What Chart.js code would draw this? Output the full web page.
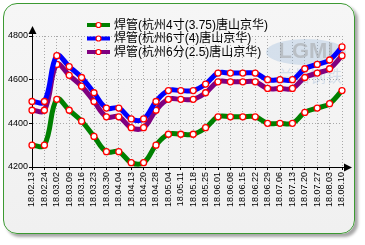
<!DOCTYPE html>
<html>
<head>
<meta charset="utf-8">
<script src="https://cdn.jsdelivr.net/npm/chart.js@4/dist/chart.umd.min.js"></script>
<style>
html,body{margin:0;padding:0;background:#fff;width:365px;height:245px;overflow:hidden;}
#panel{position:absolute;left:3px;top:3px;width:350px;height:229px;border:1.5px solid #3c9a32;border-radius:14px;
background:linear-gradient(#f6f6f6,#f0f0f0);box-shadow:3px 3px 3px rgba(0,0,0,0.35);}
#c{position:absolute;left:0;top:0;}
</style>
</head>
<body>
<div id="panel"></div>
<canvas id="c" width="365" height="245"></canvas>
<script>
const categories = ["18.02.13","18.02.24","18.03.02","18.03.09","18.03.16","18.03.23","18.03.30","18.04.04","18.04.13","18.04.20","18.04.28","18.05.04","18.05.11","18.05.18","18.05.25","18.06.01","18.06.08","18.06.15","18.06.22","18.06.29","18.07.06","18.07.13","18.07.20","18.07.27","18.08.03","18.08.10"];
const seriesNames = ["焊管(杭州4寸(3.75)唐山京华)","焊管(杭州6寸(4)唐山京华)","焊管(杭州6分(2.5)唐山京华)"];
const hz4 = [4300,4300,4510,4460,4410,4340,4270,4270,4220,4220,4300,4350,4350,4350,4380,4430,4430,4430,4430,4400,4400,4400,4450,4470,4490,4550];
const hz6 = [4500,4500,4710,4660,4610,4540,4470,4470,4420,4420,4500,4550,4550,4550,4580,4630,4630,4630,4630,4600,4600,4600,4650,4670,4690,4750];
const hz6f = [4460,4460,4670,4620,4570,4500,4430,4430,4380,4380,4460,4510,4510,4510,4540,4590,4590,4590,4590,4560,4560,4560,4610,4630,4650,4710];
const yTicks = [4200,4400,4600,4800];
const colors = ["#008000","#0000ff","#800080"];

const watermark = {
  id:'watermark',
  beforeDatasetsDraw(chart){
    const ctx = chart.ctx; ctx.save();
    ctx.fillStyle='rgba(140,175,215,0.3)';
    ctx.beginPath(); ctx.ellipse(306,52,40,13,0,0,Math.PI*2); ctx.fill();
    ctx.font='bold 22px "Liberation Sans"'; ctx.fillStyle='rgba(150,150,150,0.45)';
    ctx.textAlign='center'; ctx.textBaseline='middle';
    ctx.fillText('LGMI',306,52);
    ctx.font='16px "Noto Sans CJK SC"'; ctx.fillStyle='rgba(110,150,200,0.25)';
    ctx.fillText('兰格钢铁',310,76);
    ctx.restore();
  }
};

const axesArrows = {
  id:'axesArrows',
  afterDraw(chart){
    const ctx=chart.ctx, a=chart.chartArea; ctx.save();
    ctx.strokeStyle='#000'; ctx.fillStyle='#000'; ctx.lineWidth=1;
    ctx.beginPath(); ctx.moveTo(a.left+0.5,a.top); ctx.lineTo(a.left+0.5,a.top-6); ctx.stroke();
    ctx.beginPath(); ctx.moveTo(a.left+0.5,a.top-10); ctx.lineTo(a.left-3.5,a.top-2); ctx.lineTo(a.left+4.5,a.top-2); ctx.closePath(); ctx.fill();
    ctx.beginPath(); ctx.moveTo(a.right,a.bottom+0.5); ctx.lineTo(a.right+4,a.bottom+0.5); ctx.stroke();
    ctx.beginPath(); ctx.moveTo(a.right+10,a.bottom+0.5); ctx.lineTo(a.right+2,a.bottom-3.5); ctx.lineTo(a.right+2,a.bottom+4.5); ctx.closePath(); ctx.fill();
    ctx.restore();
  }
};

const customLegend = {
  id:'customLegend',
  afterDraw(chart){
    const ctx=chart.ctx; ctx.save();
    const ys=[25,38.5,52];
    chart.data.datasets.forEach((ds,i)=>{
      const y=ys[i];
      ctx.strokeStyle=ds.borderColor; ctx.lineWidth=4;
      ctx.beginPath(); ctx.moveTo(87,y); ctx.lineTo(110,y); ctx.stroke();
      ctx.fillStyle='#fff'; ctx.strokeStyle='#ff0000'; ctx.lineWidth=1.2;
      ctx.beginPath(); ctx.arc(98.5,y,2.5,0,Math.PI*2); ctx.fill(); ctx.stroke();
      ctx.fillStyle='#000'; ctx.font='12px "Liberation Sans","Noto Sans CJK SC"';
      ctx.textAlign='left'; ctx.textBaseline='middle';
      ctx.fillText(ds.label,114,y+0.5);
    });
    ctx.restore();
  }
};

const mk = (label,data,color)=>({label,data,borderColor:color,backgroundColor:color,borderWidth:5,tension:0.4,
  pointRadius:3,pointBackgroundColor:'#fff',pointBorderColor:'#ff0000',pointBorderWidth:1.3,fill:false,clip:false});

new Chart(document.getElementById('c'),{
  type:'line',
  data:{labels:categories,datasets:[mk(seriesNames[0],hz4,colors[0]),mk(seriesNames[1],hz6,colors[1]),mk(seriesNames[2],hz6f,colors[2])]},
  options:{
    responsive:false,devicePixelRatio:1,animation:false,
    layout:{padding:{left:0,right:23,top:36,bottom:0}},
    plugins:{legend:{display:false},tooltip:{enabled:false}},
    scales:{
      x:{type:'category',offset:false,
        afterFit(s){s.height=78;},
        grid:{color:'#a8a8a8',lineWidth:1,tickColor:'#000',tickLength:3},
        border:{display:true,color:'#000',width:1,dash:[1,2]},
        ticks:{autoSkip:false,maxRotation:90,minRotation:90,padding:2,color:'#000',font:{family:'"Liberation Sans"',size:9}}
      },
      y:{min:4200,max:4800,
        afterFit(s){s.width=32;},
        afterBuildTicks(s){s.ticks=yTicks.map(v=>({value:v}));},
        grid:{color:'#a8a8a8',lineWidth:1,tickColor:'#000',tickLength:3},
        border:{display:true,color:'#000',width:1,dash:[1,2]},
        ticks:{padding:1,color:'#000',font:{family:'"Liberation Sans"',size:9},callback:v=>String(v)}
      }
    }
  },
  plugins:[watermark,axesArrows,customLegend]
});
</script>
</body>
</html>
